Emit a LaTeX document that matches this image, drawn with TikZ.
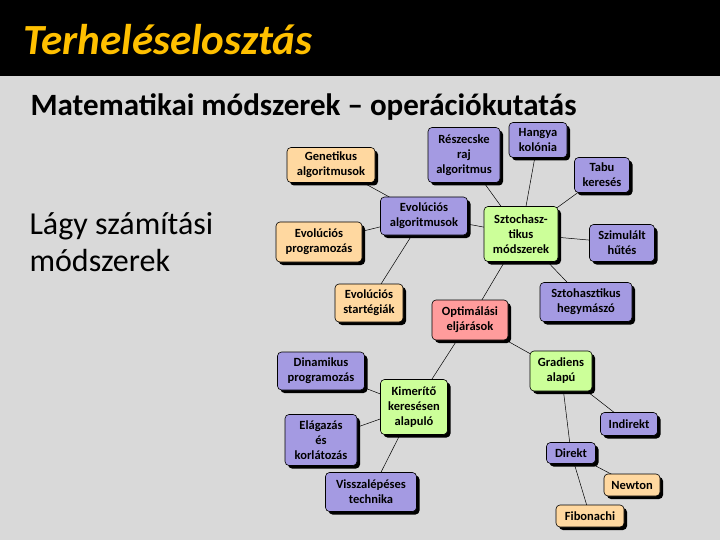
\documentclass[tikz,border=0pt]{standalone}
\usepackage{fontspec}
\setmainfont{Carlito}
\usetikzlibrary{shadows,backgrounds}
\definecolor{bg}{HTML}{D9D9D9}
\definecolor{pur}{HTML}{A49AE2}
\definecolor{ora}{HTML}{FFD8A0}
\definecolor{gre}{HTML}{CCFF99}
\definecolor{pin}{HTML}{FF9C9C}
\definecolor{ttl}{HTML}{FFC000}
\tikzset{
 box/.style={draw=black, line width=0.6pt, rounded corners=4pt, align=center,
   font=\bfseries\fontsize{12.5}{15}\selectfont, inner sep=1pt,
   drop shadow={shadow xshift=3pt, shadow yshift=-3pt, fill=black, opacity=1}},
 P/.style={box, fill=pur}, O/.style={box, fill=ora}, G/.style={box, fill=gre}, K/.style={box, fill=pin},
 ln/.style={draw=black, line width=0.5pt}
}
\begin{document}
\begin{tikzpicture}[x=1pt,y=-1pt]
\useasboundingbox (0,0) rectangle (720,540);
\node[anchor=west, text=ttl, font=\bfseries\itshape\fontsize{43}{46}\selectfont] (title) at (20,40) {Terheléselosztás};
\node[anchor=west, font=\bfseries\fontsize{31}{34}\selectfont] (sub) at (27,107) {Matematikai módszerek – operációkutatás};
\node[anchor=west, align=left, font=\fontsize{32}{37}\selectfont] (lagy) at (26,242) {Lágy számítási\\módszerek};

\node[O, minimum width=88, minimum height=35] (gen) at (331,165) {Genetikus\\algoritmusok};
\node[P, minimum width=72, minimum height=55] (resz) at (464,155) {Részecske\\raj\\algoritmus};
\node[P, minimum width=58, minimum height=35] (hang) at (538,140) {Hangya\\kolónia};
\node[P, minimum width=55, minimum height=35] (tabu) at (602,175) {Tabu\\keresés};
\node[P, minimum width=87, minimum height=38] (evo) at (424,216) {Evolúciós\\algoritmusok};
\node[G, minimum width=74, minimum height=55] (szt) at (521,234) {Sztochasz-\\tikus\\módszerek};
\node[P, minimum width=65, minimum height=37] (szim) at (622,243) {Szimulált\\hűtés};
\node[O, minimum width=86, minimum height=40] (evp) at (319,242) {Evolúciós\\programozás};
\node[O, minimum width=68, minimum height=38] (evs) at (369,303) {Evolúciós\\startégiák};
\node[K, minimum width=76, minimum height=40] (opt) at (470,320) {Optimálási\\eljárások};
\node[P, minimum width=92, minimum height=39] (hegy) at (586,302) {Sztohasztikus\\hegymászó};
\node[P, minimum width=87, minimum height=38] (din) at (321,371) {Dinamikus\\programozás};
\node[G, minimum width=62, minimum height=40] (grad) at (561,371) {Gradiens\\alapú};
\node[G, minimum width=67, minimum height=55] (kim) at (414,407) {Kimerítő\\keresésen\\alapuló};
\node[P, minimum width=72, minimum height=51] (ela) at (321,440) {Elágazás\\és\\korlátozás};
\node[P, minimum width=57, minimum height=23] (ind) at (629,424) {Indirekt};
\node[P, minimum width=49, minimum height=21] (dir) at (571,453) {Direkt};
\node[P, minimum width=91, minimum height=39] (vis) at (371,492) {Visszalépéses\\technika};
\node[O, minimum width=56, minimum height=22] (new) at (632,485) {Newton};
\node[O, minimum width=68, minimum height=22] (fib) at (590,516) {Fibonachi};

\begin{scope}[on background layer]
\fill[bg] (0,0) rectangle (720,540);
\fill[black] (0,0) rectangle (720,76);
\foreach \a/\b in {evo/gen,evo/evp,evo/evs,evo/szt,szt/resz,szt/hang,szt/tabu,szt/szim,szt/hegy,szt/opt,opt/kim,opt/grad,kim/din,kim/ela,kim/vis,grad/ind,grad/dir,dir/new,dir/fib}
  \draw[ln] (\a.center) -- (\b.center);
\end{scope}
\end{tikzpicture}
\end{document}
